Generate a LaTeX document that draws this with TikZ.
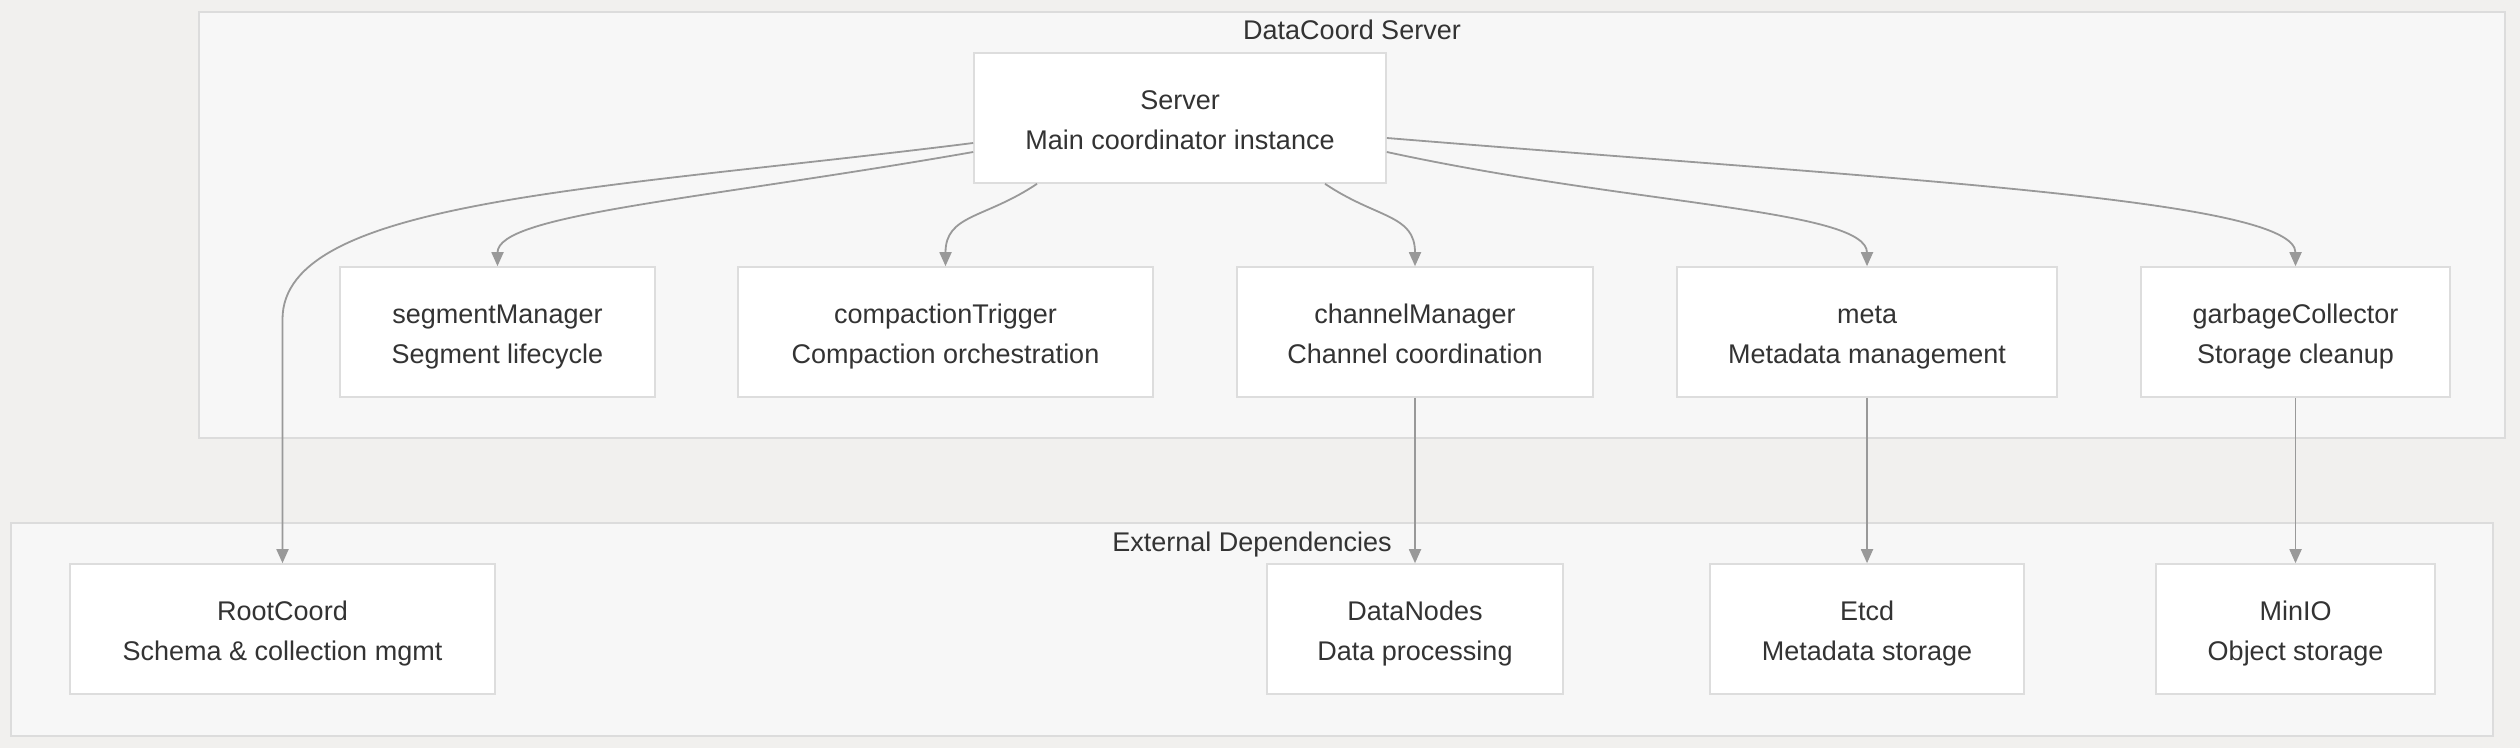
\documentclass[tikz,border=0pt]{standalone}
\usepackage{fontspec}
\setmainfont{Liberation Sans}
\usepackage{xcolor}
\usepackage{tikz}
\usetikzlibrary{arrows.meta,positioning}

\definecolor{bggray}{HTML}{F1F0EE}
\definecolor{clusterfill}{HTML}{F7F7F7}
\definecolor{clusterline}{HTML}{DCDCDC}
\definecolor{boxline}{HTML}{DDDDDD}
\definecolor{edgegray}{HTML}{999999}
\definecolor{txtgray}{HTML}{333333}

\newcommand\lstrut{\rule[-4.2pt]{0pt}{20pt}}
\newcommand\twoline[2]{\lstrut#1\\\lstrut#2}

\begin{document}
\begin{tikzpicture}[x=0.5pt,y=-0.5pt,
  box/.style={draw=boxline,line width=0.8pt,fill=white,minimum height=65pt,
    inner sep=0pt,align=center,text=txtgray,font=\fontsize{13.5}{20}\selectfont},
  cluster/.style={draw=clusterline,line width=0.8pt,fill=clusterfill,inner sep=0pt},
  title/.style={text=txtgray,font=\fontsize{13.5}{20}\selectfont,inner sep=0pt,
    text height=10pt,text depth=3pt},
  arr/.style={draw=edgegray,line width=0.9pt,-{Triangle[length=7pt,width=6pt]}}]
  \fill[bggray] (0,0) rectangle (2520,748);
  \useasboundingbox (0,0) rectangle (2520,748);
  % clusters
  \node(dcs)[cluster,minimum width=1153pt,minimum height=213pt] at (1352,225) {};
  \node(ext)[cluster,minimum width=1241pt,minimum height=106.5pt] at (1252,629.5) {};
  \node(dcstitle)[title] at ([yshift=-10.5pt]dcs.north) {DataCoord Server};
  \node(exttitle)[title] at ([yshift=-11pt]ext.north) {External Dependencies};
  % DataCoord server
  \node(server)[box,minimum width=206pt] at (1180,118) {\twoline{Server}{Main coordinator instance}};
  \node(seg)[box,minimum width=157.5pt] at (497.5,332) {\twoline{segmentManager}{Segment lifecycle}};
  \node(comp)[box,minimum width=207.5pt] at (945.5,332) {\twoline{compactionTrigger}{Compaction orchestration}};
  \node(chan)[box,minimum width=178pt] at (1415,332) {\twoline{channelManager}{Channel coordination}};
  \node(meta)[box,minimum width=190pt] at (1867,332) {\twoline{meta}{Metadata management}};
  \node(gc)[box,minimum width=154.5pt] at (2295.5,332) {\twoline{garbageCollector}{Storage cleanup}};
  % external dependencies
  \node(root)[box,minimum width=212.5pt] at (282.5,629) {\twoline{RootCoord}{Schema \& collection mgmt}};
  \node(dn)[box,minimum width=148pt] at (1415,629) {\twoline{DataNodes}{Data processing}};
  \node(etcd)[box,minimum width=157pt] at (1867,629) {\twoline{Etcd}{Metadata storage}};
  \node(minio)[box,minimum width=139.5pt] at (2295.5,629) {\twoline{MinIO}{Object storage}};
  % edges
  \draw[arr] ([yshift=-12.5pt]server.west) .. controls +(-374,47) and +(0,-120) .. ([yshift=122pt]root.north) -- (root.north);
  \draw[arr] ([yshift=-17pt]server.west) .. controls +(-274,48) and +(0,-52) .. (seg.north);
  \draw[arr] ([xshift=-71.5pt]server.south) .. controls +(-52,35) and +(0,-52) .. (comp.north);
  \draw[arr] ([xshift=72.5pt]server.south) .. controls +(52,35) and +(0,-52) .. (chan.north);
  \draw[arr] ([yshift=-17pt]server.east) .. controls +(244,53) and +(0,-57) .. (meta.north);
  \draw[arr] ([yshift=-10pt]server.east) .. controls +(514,42) and +(0,-67) .. (gc.north);
  \draw[arr] (chan) -- (dn);
  \draw[arr] (meta) -- (etcd);
  \draw[arr] (gc) -- (minio);
\end{tikzpicture}
\end{document}
